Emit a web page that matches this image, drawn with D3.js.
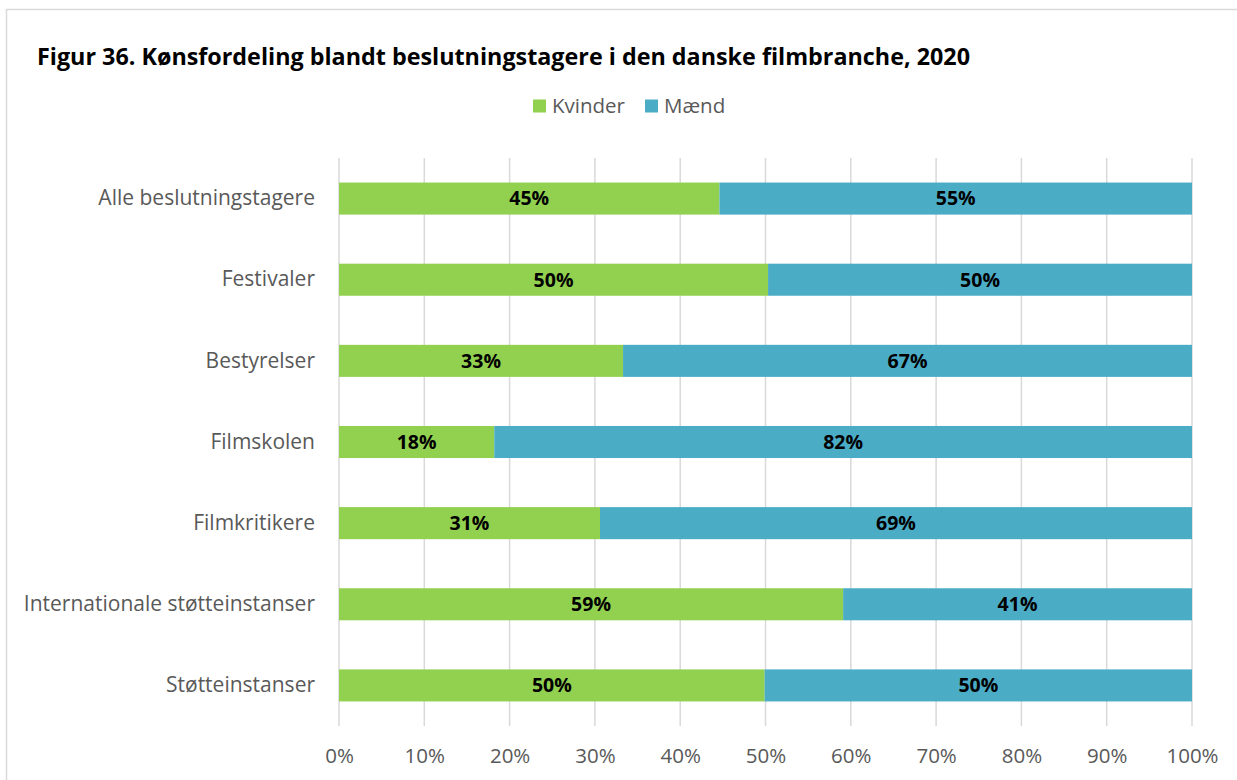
<!DOCTYPE html>
<html>
<head>
<meta charset="utf-8">
<script src="https://cdn.jsdelivr.net/npm/d3@7"></script>
<style>
  html, body { margin: 0; padding: 0; background: #fff; }
  svg { display: block; font-family: "Open Sans", sans-serif; }
</style>
</head>
<body>
<svg id="chart" width="1237" height="780"></svg>
<script>
// Gender distribution among decision makers in the Danish film industry, 2020
const categories = [
  "Alle beslutningstagere",
  "Festivaler",
  "Bestyrelser",
  "Filmskolen",
  "Filmkritikere",
  "Internationale støtteinstanser",
  "Støtteinstanser"
];
const kvinder = [44.6, 50.3, 33.3, 18.2, 30.6, 59.1, 49.9];
const maend   = [55.4, 49.7, 66.7, 81.8, 69.4, 40.9, 50.1];
const seriesNames = ["Kvinder", "Mænd"];
const seriesColors = ["#92D050", "#4BACC6"];
const xTicks = [0, 10, 20, 30, 40, 50, 60, 70, 80, 90, 100];
const title = "Figur 36. Kønsfordeling blandt beslutningstagere i den danske filmbranche, 2020";

const svg = d3.select("#chart");
const W = 1237, H = 780;
const FONT = "'Open Sans', sans-serif";

// outer frame
svg.append("rect")
  .attr("x", 6.5).attr("y", 9.5)
  .attr("width", W + 10).attr("height", H + 10)
  .attr("fill", "#fff").attr("stroke", "#D9D9D9").attr("stroke-width", 1.5);

const margin = { left: 339, right: 45, top: 158, bottom: 54 };
const x = d3.scaleLinear().domain([0, 100]).range([margin.left, W - margin.right]);
const y = d3.scaleBand().domain(categories)
  .range([margin.top, H - margin.bottom])
  .paddingInner(0.605).paddingOuter(0.3025);

// title
svg.append("text")
  .attr("x", 37).attr("y", 65)
  .attr("font-size", 22.5).attr("font-weight", 700).attr("fill", "#000")
  .attr("textLength", 933).attr("lengthAdjust", "spacingAndGlyphs")
  .text(title);

// legend
const legend = svg.append("g").attr("transform", "translate(533,106)");
const legendItems = [
  { name: seriesNames[0], color: seriesColors[0], x: 0 },
  { name: seriesNames[1], color: seriesColors[1], x: 112 }
];
legendItems.forEach(d => {
  legend.append("rect").attr("x", d.x).attr("y", -6.5).attr("width", 13).attr("height", 13).attr("fill", d.color);
  legend.append("text").attr("x", d.x + 19).attr("y", 0).attr("dy", "0.35em")
    .attr("font-size", 20.5).attr("fill", "#595959").text(d.name);
});

// vertical gridlines
svg.append("g").selectAll("line").data(xTicks).join("line")
  .attr("x1", d => x(d)).attr("x2", d => x(d))
  .attr("y1", margin.top).attr("y2", H - margin.bottom)
  .attr("stroke", "#D9D9D9").attr("stroke-width", 1.5);

// x axis labels
const xAxis = d3.axisBottom(x).tickValues(xTicks).tickFormat(d => d + "%").tickSize(0).tickPadding(0);
const gx = svg.append("g").attr("transform", `translate(0,${H - 32})`).call(xAxis);
gx.select(".domain").remove();
gx.selectAll("text").attr("font-size", 20.5).attr("fill", "#595959").attr("font-family", FONT);

// y axis labels
const yAxis = d3.axisLeft(y).tickSize(0).tickPadding(0);
const gy = svg.append("g").attr("transform", `translate(${margin.left - 24},0)`).call(yAxis);
gy.select(".domain").remove();
gy.selectAll("text").attr("font-size", 21).attr("fill", "#595959").attr("font-family", FONT);

// stacked bars
const rows = categories.map((c, i) => ({ cat: c, Kvinder: kvinder[i], "Mænd": maend[i] }));
const stack = d3.stack().keys(seriesNames)(rows);
const color = d3.scaleOrdinal().domain(seriesNames).range(seriesColors);

const layers = svg.append("g").selectAll("g").data(stack).join("g").attr("fill", d => color(d.key));
layers.selectAll("rect").data(d => d).join("rect")
  .attr("x", d => x(d[0]))
  .attr("y", d => y(d.data.cat))
  .attr("width", d => x(d[1]) - x(d[0]))
  .attr("height", y.bandwidth());

// value labels
layers.selectAll("text").data(d => d).join("text")
  .attr("x", d => (x(d[0]) + x(d[1])) / 2)
  .attr("y", d => y(d.data.cat) + y.bandwidth() / 2)
  .attr("dy", "0.35em")
  .attr("text-anchor", "middle")
  .attr("font-size", 19.5).attr("font-weight", 700).attr("fill", "#000")
  .text(d => Math.round(d[1] - d[0]) + "%");
</script>
</body>
</html>
